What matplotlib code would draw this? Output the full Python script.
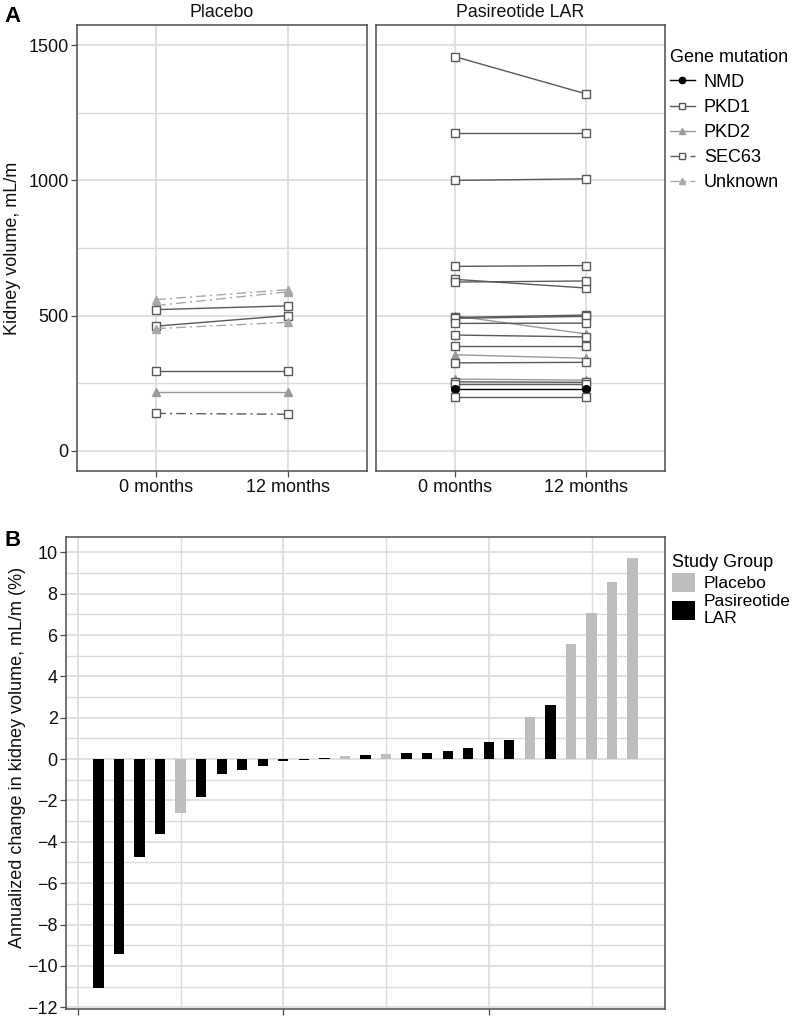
import matplotlib
matplotlib.use("Agg")
import matplotlib.pyplot as plt
from matplotlib.lines import Line2D
from matplotlib.patches import Patch
from matplotlib.ticker import MultipleLocator, FixedLocator, NullFormatter

plt.rcParams['font.family'] = ['Liberation Sans', 'DejaVu Sans']

# ---------------- Data ----------------
timepoints = ["0 months", "12 months"]
genes = ["NMD", "PKD1", "PKD2", "SEC63", "Unknown"]

placebo_gene = ["Unknown", "Unknown", "PKD1", "PKD1", "Unknown", "PKD1", "PKD2", "SEC63"]
placebo_0 = [559, 537, 522, 461, 452, 294, 218, 138]
placebo_12 = [596, 588, 536, 500, 475, 294, 218, 135]

pas_gene = ["PKD1", "PKD1", "PKD1", "PKD1", "PKD1", "PKD1", "PKD2", "PKD1", "PKD1",
            "PKD1", "PKD1", "PKD1", "PKD2", "PKD1", "PKD2", "PKD1", "PKD1", "NMD", "PKD1"]
pas_0 = [1458, 1176, 1000, 682, 634, 624, 499, 493, 490, 471, 428, 389, 355, 325, 265, 255, 246, 227, 197]
pas_12 = [1320, 1176, 1006, 685, 602, 628, 432, 502, 497, 472, 421, 389, 342, 327, 261, 253, 246, 227, 197]

bar_values = [-11.05, -9.45, -4.73, -3.62, -2.59, -1.82, -0.74, -0.53, -0.32, -0.11,
              -0.05, 0.06, 0.16, 0.21, 0.24, 0.29, 0.29, 0.39, 0.52, 0.81,
              0.92, 2.05, 2.61, 5.56, 7.07, 8.55, 9.71]
bar_group = ["Pasireotide LAR"] * 4 + ["Placebo"] + ["Pasireotide LAR"] * 7 + ["Placebo"] + \
            ["Pasireotide LAR"] + ["Placebo"] + ["Pasireotide LAR"] * 6 + ["Placebo"] + \
            ["Pasireotide LAR"] + ["Placebo"] * 4
group_labels = ["Placebo", "Pasireotide\nLAR"]

# ---------------- Styles ----------------
style = {
    "NMD": dict(color="black", ls="-", marker="o", mfc="black", ms=5.5),
    "PKD1": dict(color="#5a5a5a", ls="-", marker="s", mfc="white", ms=5.5),
    "PKD2": dict(color="#9a9a9a", ls="-", marker="^", mfc="#9a9a9a", ms=6),
    "SEC63": dict(color="#5a5a5a", ls=(0, (7, 3, 1.5, 3)), marker="s", mfc="white", ms=5.5),
    "Unknown": dict(color="#a8a8a8", ls=(0, (7, 3, 1.5, 3)), marker="^", mfc="#a8a8a8", ms=6),
}
group_color = {"Placebo": "#bebebe", "Pasireotide LAR": "black"}
grid_c = "#dcdcdc"
spine_c = "#4d4d4d"
TXT = "#111111"
FS_TICK = 13
FS_LAB = 13
FS_LEG = 13

W, H = 794, 1018
fig = plt.figure(figsize=(W / 100, H / 100), dpi=100)


def ax_px(x0, y0, x1, y1):
    return fig.add_axes([x0 / W, 1 - y1 / H, (x1 - x0) / W, (y1 - y0) / H])


def style_axes(ax):
    for s in ax.spines.values():
        s.set_color(spine_c)
        s.set_linewidth(1.1)
    ax.set_axisbelow(True)
    ax.tick_params(axis='both', which='major', length=4, width=0.9, color=spine_c,
                   labelsize=FS_TICK, labelcolor=TXT, pad=2)
    ax.tick_params(axis='both', which='minor', length=0)


# ---------------- Panel A ----------------
axp = ax_px(77, 25, 367, 471)
axl = ax_px(376, 25, 665, 471)
xs = [1, 2]
for ax, gl, v0, v12, title in [(axp, placebo_gene, placebo_0, placebo_12, "Placebo"),
                               (axl, pas_gene, pas_0, pas_12, "Pasireotide LAR")]:
    style_axes(ax)
    ax.set_xlim(0.4, 2.6)
    ax.set_ylim(-75, 1575)
    ax.yaxis.set_major_locator(FixedLocator([0, 500, 1000, 1500]))
    ax.yaxis.set_minor_locator(FixedLocator([250, 750, 1250]))
    ax.set_xticks(xs)
    ax.set_xticklabels(timepoints)
    ax.grid(True, which='major', color=grid_c, lw=1.2)
    ax.grid(True, which='minor', axis='y', color=grid_c, lw=1.0)
    for g, a, b in zip(gl, v0, v12):
        st = style[g]
        ax.plot(xs, [a, b], color=st["color"], ls=st["ls"], lw=1.0, marker=st["marker"],
                mfc=st["mfc"], mec=st["color"], ms=st["ms"], mew=1.0)
    ax.text(0.5, 1.01, title, transform=ax.transAxes, ha='center', va='bottom',
            fontsize=12.8, color=TXT)

axl.tick_params(axis='y', which='both', left=False, labelleft=False)
axp.set_ylabel("Kidney volume, mL/m", fontsize=FS_LAB, color=TXT, labelpad=5)

handles = []
for g in genes:
    st = style[g]
    handles.append(Line2D([0], [0], color=st["color"], ls=st["ls"], lw=1.0, marker=st["marker"],
                          mfc=st["mfc"], mec=st["color"], ms=st["ms"] - 1, mew=1.0))
legA = fig.legend(handles, genes, title="Gene mutation", loc='upper left',
                  bbox_to_anchor=(666 / W, 1 - 45 / H), frameon=False, fontsize=FS_LEG,
                  title_fontsize=FS_LEG, handlelength=1.4, handletextpad=0.5,
                  labelspacing=0.45, borderaxespad=0, borderpad=0.2)
legA._legend_box.align = "left"

fig.text(4 / W, 1 - 16 / H, "A", fontsize=16, fontweight='bold', va='center', ha='left')

# ---------------- Panel B ----------------
axb = ax_px(66, 537, 665, 1009)
style_axes(axb)
idx = list(range(1, len(bar_values) + 1))
axb.bar(idx, bar_values, width=0.5, color=[group_color[g] for g in bar_group], linewidth=0)
axb.set_xlim(-0.575, 28.575)
lo, hi = min(bar_values), max(bar_values)
pad = 0.05 * (hi - lo)
axb.set_ylim(lo - pad, hi + pad)
axb.yaxis.set_major_locator(MultipleLocator(2))
axb.yaxis.set_minor_locator(MultipleLocator(1))
axb.xaxis.set_major_locator(FixedLocator([0, 10, 20]))
axb.xaxis.set_minor_locator(FixedLocator([5, 15, 25]))
axb.xaxis.set_major_formatter(NullFormatter())
axb.grid(True, which='major', color=grid_c, lw=1.2)
axb.grid(True, which='minor', color=grid_c, lw=1.0)
axb.set_ylabel("Annualized change in kidney volume, mL/m (%)", fontsize=FS_LAB,
               color=TXT, labelpad=3)
axb.yaxis.set_label_coords(-40 / 599, 0.534)

handlesB = [Patch(facecolor=group_color["Placebo"], edgecolor='none'),
            Patch(facecolor=group_color["Pasireotide LAR"], edgecolor='none')]
legB = fig.legend(handlesB, group_labels, title="Study Group", loc='upper left',
                  bbox_to_anchor=(669 / W, 1 - 551 / H), frameon=False, fontsize=12.5,
                  title_fontsize=FS_LEG, handlelength=1.3, handleheight=1.3, handletextpad=0.5,
                  labelspacing=0.1, borderaxespad=0, borderpad=0.2)
legB._legend_box.align = "left"

fig.text(4 / W, 1 - 540 / H, "B", fontsize=16, fontweight='bold', va='center', ha='left')

fig.savefig("out.png", dpi=100)
